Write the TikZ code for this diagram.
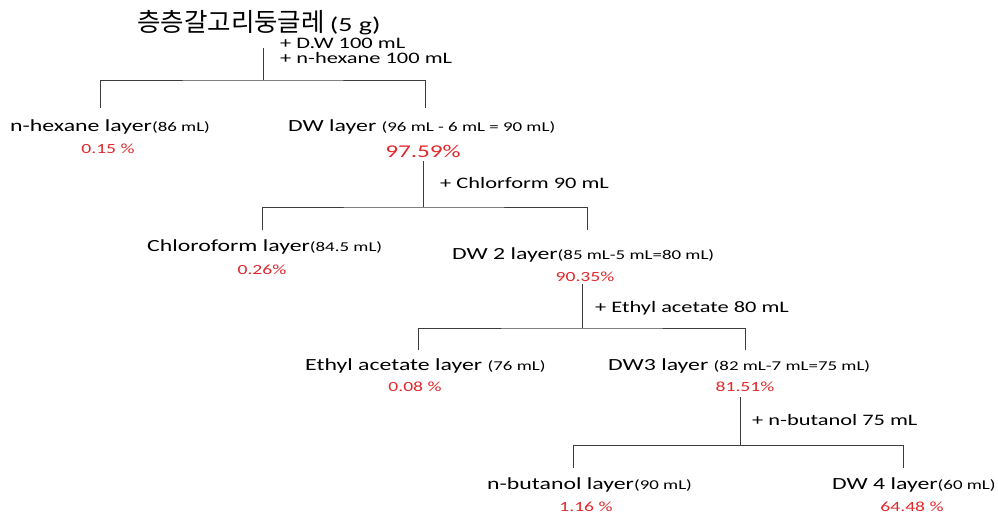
\documentclass[tikz,border=0pt]{standalone}
\usepackage{fontspec}
\setmainfont{Carlito}[FakeStretch=1.4]
\newfontfamily\kor{Noto Sans CJK KR}
\newcommand\smtxt{\fontsize{13.5}{15}\selectfont}
\definecolor{pctred}{RGB}{225,40,45}
\definecolor{linegray}{RGB}{60,60,60}
\begin{document}
\begin{tikzpicture}[x=1pt,y=-1pt,
  lbl/.style={anchor=west,inner sep=0pt,font=\fontsize{17}{19}\selectfont},
  pct/.style={anchor=center,inner sep=0pt,text=pctred,font=\fontsize{14}{16}\selectfont},
  add/.style={anchor=west,inner sep=0pt,font=\fontsize{16}{18}\selectfont},
  tree/.style={draw=linegray,line width=0.8pt}]
\useasboundingbox (0,0) rectangle (998,515);
% title
\node[anchor=west,inner sep=0pt] (title) at (137,23) {\kor\fontsize{25.5}{27}\selectfont 층층갈고리둥글레\hspace{5pt}\rmfamily\fontsize{20}{22}\selectfont(5 g)};
\node[add] (a1a) at (280,43) {+ D.W 100 mL};
\node[add] (a1b) at (280,58) {+ n-hexane 100 mL};
% level 1
\node[lbl] (hex) at (10,127) {n-hexane layer{\smtxt(86 mL)}};
\node[pct] (hexp) at (108,149) {0.15 \%};
\node[lbl] (dw1) at (288,127) {DW layer {\smtxt(96 mL - 6 mL = 90 mL)}};
\node[pct,font=\fontsize{18}{20}\selectfont] (dw1p) at (423,151) {97.59\%};
\coordinate (s1) at (263,48);
\coordinate (j1) at (263,80);
\coordinate (c1l) at (100,108);
\coordinate (c1r) at (425,108);
\draw[tree] (s1) -- (j1);
\draw[tree] (c1l) |- (j1) -| (c1r);
% level 2
\node[add] (a2) at (440,183) {+ Chlorform 90 mL};
\node[lbl] (chl) at (147,247) {Chloroform layer{\smtxt(84.5 mL)}};
\node[pct] (chlp) at (262,270) {0.26\%};
\node[lbl] (dw2) at (452,255) {DW 2 layer{\smtxt(85 mL-5 mL=80 mL)}};
\node[pct] (dw2p) at (585,277) {90.35\%};
\coordinate (s2) at (423,161);
\coordinate (j2) at (423,207);
\coordinate (c2l) at (262,230);
\coordinate (c2r) at (587,230);
\draw[tree] (s2) -- (j2);
\draw[tree] (c2l) |- (j2) -| (c2r);
% level 3
\node[add] (a3) at (595,308) {+ Ethyl acetate 80 mL};
\node[lbl] (eth) at (305,366) {Ethyl acetate layer {\smtxt(76 mL)}};
\node[pct] (ethp) at (415,387) {0.08 \%};
\node[lbl] (dw3) at (608,366) {DW3 layer {\smtxt(82 mL-7 mL=75 mL)}};
\node[pct] (dw3p) at (745,387) {81.51\%};
\coordinate (s3) at (582,284);
\coordinate (j3) at (582,328);
\coordinate (c3l) at (418,350);
\coordinate (c3r) at (745,350);
\draw[tree] (s3) -- (j3);
\draw[tree] (c3l) |- (j3) -| (c3r);
% level 4
\node[add] (a4) at (752,420) {+ n-butanol 75 mL};
\node[lbl] (but) at (487,485) {n-butanol layer{\smtxt(90 mL)}};
\node[pct] (butp) at (586,507) {1.16 \%};
\node[lbl] (dw4) at (832,485) {DW 4 layer{\smtxt(60 mL)}};
\node[pct] (dw4p) at (912,507) {64.48 \%};
\coordinate (s4) at (740,397);
\coordinate (j4) at (740,445);
\coordinate (c4l) at (573,468);
\coordinate (c4r) at (903,468);
\draw[tree] (s4) -- (j4);
\draw[tree] (c4l) |- (j4) -| (c4r);
\end{tikzpicture}
\end{document}
